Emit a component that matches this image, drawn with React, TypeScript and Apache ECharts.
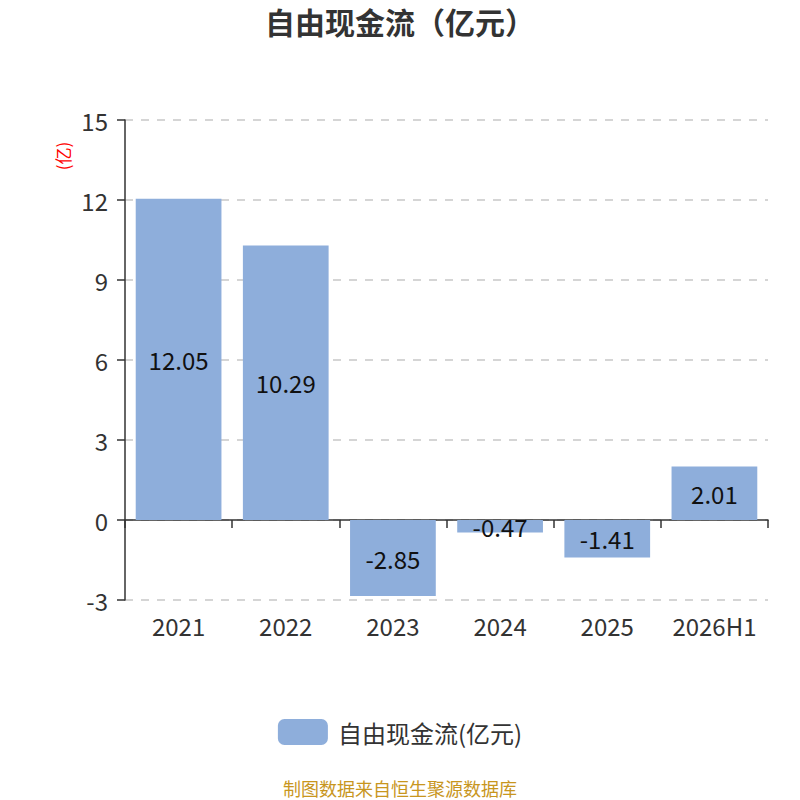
import React, { useEffect, useRef } from "react";
import * as echarts from "echarts";

const categories = ["2021", "2022", "2023", "2024", "2025", "2026H1"];
const values = [12.05, 10.29, -2.85, -0.47, -1.41, 2.01];
const seriesName = "自由现金流(亿元)";
const titleText = "自由现金流（亿元）";
const unitName = "(亿)";
const footerText = "制图数据来自恒生聚源数据库";

const FONT = "'Noto Sans CJK SC', 'Noto Sans', sans-serif";

export default function App() {
  const ref = useRef<HTMLDivElement>(null);
  useEffect(() => {
    document.body.style.margin = "0";
    const chart = echarts.init(ref.current!, undefined, { renderer: "svg" });
    chart.setOption({
      animation: false,
      textStyle: { fontFamily: FONT },
      title: {
        text: titleText,
        left: "center",
        top: 1,
        textStyle: { fontSize: 30, fontWeight: "bold", color: "#333", fontFamily: FONT },
      },
      legend: {
        bottom: 50,
        left: "center",
        itemWidth: 50,
        itemHeight: 26,
        itemGap: 10,
        textStyle: { fontSize: 24, color: "#333", fontFamily: FONT, padding: [0, 0, 0, 5] },
        data: [{ name: seriesName, icon: "roundRect" }],
      },
      graphic: [
        {
          type: "text",
          x: 400,
          y: 788,
          style: {
            text: footerText,
            fill: "#c8961e",
            fontSize: 18,
            fontFamily: FONT,
            textAlign: "center",
            textVerticalAlign: "middle",
          },
        },
        {
          type: "text",
          x: 62,
          y: 156,
          rotation: Math.PI / 2,
          style: {
            text: unitName,
            fill: "red",
            fontSize: 17,
            fontFamily: FONT,
            textAlign: "center",
            textVerticalAlign: "middle",
          },
        },
      ],
      grid: { left: 125, right: 32, top: 120, bottom: 200, containLabel: false },
      xAxis: {
        type: "category",
        data: categories,
        axisLine: { onZero: true, lineStyle: { color: "#333", width: 1.5 } },
        axisTick: { show: true, alignWithLabel: false, length: 8, lineStyle: { color: "#333", width: 1.5 } },
        axisLabel: { interval: 0, margin: 13, fontSize: 24, color: "#333", fontFamily: FONT },
        splitLine: { show: false },
      },
      yAxis: {
        type: "value",
        min: -3,
        max: 15,
        interval: 3,
        axisLine: { show: true, lineStyle: { color: "#333", width: 1.5 } },
        axisTick: { show: true, length: 8, lineStyle: { color: "#333", width: 1.5 } },
        axisLabel: { fontSize: 24, color: "#333", margin: 17, fontFamily: FONT },
        splitLine: { show: true, lineStyle: { type: [8, 8], color: "#c8c8c8", width: 1.5 } },
      },
      series: [
        {
          name: seriesName,
          type: "bar",
          data: values,
          barWidth: "80%",
          itemStyle: { color: "#8eaedb" },
          label: {
            show: true,
            position: "inside",
            fontSize: 24,
            color: "#111",
            fontFamily: FONT,
          },
        },
      ],
    });
    return () => chart.dispose();
  }, []);
  return <div ref={ref} style={{ width: 800, height: 800 }} />;
}
